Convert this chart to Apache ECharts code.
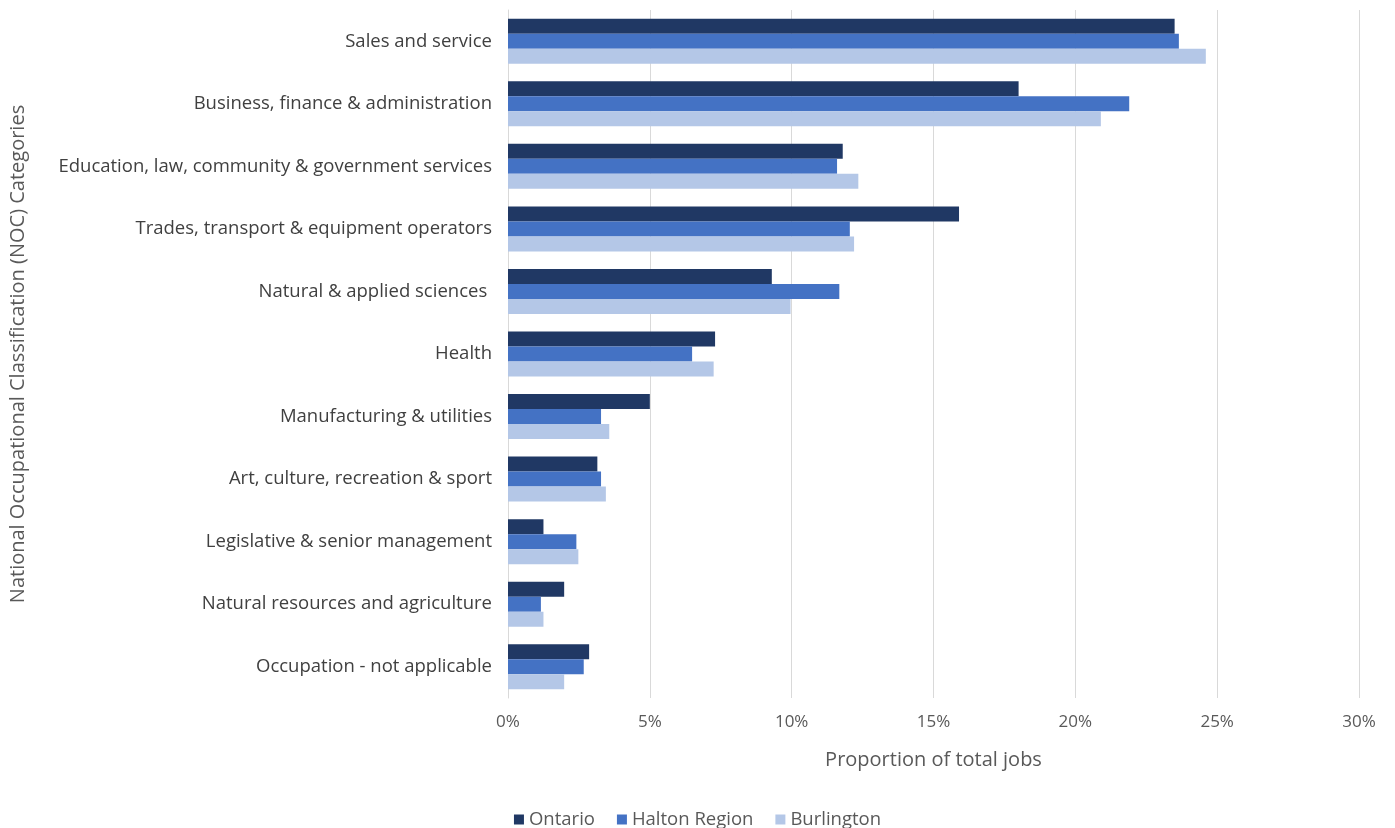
<!DOCTYPE html>
<html>
<head>
<meta charset="utf-8">
<script src="https://cdn.jsdelivr.net/npm/echarts@6/dist/echarts.min.js"></script>
<style>html,body{margin:0;padding:0;background:#fff;}#c{width:1395px;height:828px;}</style>
</head>
<body>
<div id="c"></div>
<script>
const categories = [
  "Sales and service",
  "Business, finance & administration",
  "Education, law, community & government services",
  "Trades, transport & equipment operators",
  "Natural & applied sciences ",
  "Health",
  "Manufacturing & utilities",
  "Art, culture, recreation & sport",
  "Legislative & senior management",
  "Natural resources and agriculture",
  "Occupation - not applicable"
];
const ontario    = [23.5, 18.0, 11.8, 15.9, 9.3, 7.3, 5.0, 3.15, 1.25, 1.98, 2.86];
const halton     = [23.65, 21.9, 11.6, 12.05, 11.68, 6.49, 3.28, 3.28, 2.41, 1.16, 2.67];
const burlington = [24.6, 20.9, 12.35, 12.2, 9.96, 7.25, 3.57, 3.45, 2.48, 1.25, 1.98];
const seriesNames = ["Ontario", "Halton Region", "Burlington"];
const xTicks = { min: 0, max: 30, interval: 5 };

const colors = ["#203864", "#4472C4", "#B4C7E7"];
const font = "'Open Sans', sans-serif";
const chart = echarts.init(document.getElementById('c'));
const mk = (name, data, color) => ({
  name, type: 'bar', data, barWidth: 15, barGap: '0%',
  itemStyle: { color }
});
chart.setOption({
  animation: false,
  color: colors,
  textStyle: { fontFamily: font },
  grid: { left: 508, right: 36, top: 10, bottom: 130 },
  xAxis: {
    type: 'value', min: xTicks.min, max: xTicks.max, interval: xTicks.interval,
    axisLabel: { formatter: v => v + '%', color: '#595959', fontSize: 17, margin: 16, fontFamily: font },
    splitLine: { show: true, lineStyle: { color: '#d9d9d9', width: 1 } },
    axisLine: { show: false }, axisTick: { show: false },
    name: 'Proportion of total jobs', nameLocation: 'middle', nameGap: 52,
    nameTextStyle: { color: '#595959', fontSize: 20, fontFamily: font }
  },
  yAxis: {
    type: 'category', data: categories, inverse: true,
    axisLine: { show: true, lineStyle: { color: '#d9d9d9' } },
    axisTick: { show: false },
    axisLabel: { color: '#404040', fontSize: 18.5, margin: 16, fontFamily: font },
    name: 'National Occupational Classification (NOC) Categories',
    nameLocation: 'middle', nameGap: 480, nameRotate: 90,
    nameTextStyle: { color: '#595959', fontSize: 20, fontFamily: font }
  },
  legend: {
    top: 805, left: 'center', itemWidth: 10, itemHeight: 10, itemGap: 22,
    icon: 'rect',
    textStyle: { color: '#595959', fontSize: 18.5, fontFamily: font },
    data: seriesNames
  },
  series: [
    mk(seriesNames[0], ontario, colors[0]),
    mk(seriesNames[1], halton, colors[1]),
    mk(seriesNames[2], burlington, colors[2])
  ]
});
</script>
</body>
</html>
